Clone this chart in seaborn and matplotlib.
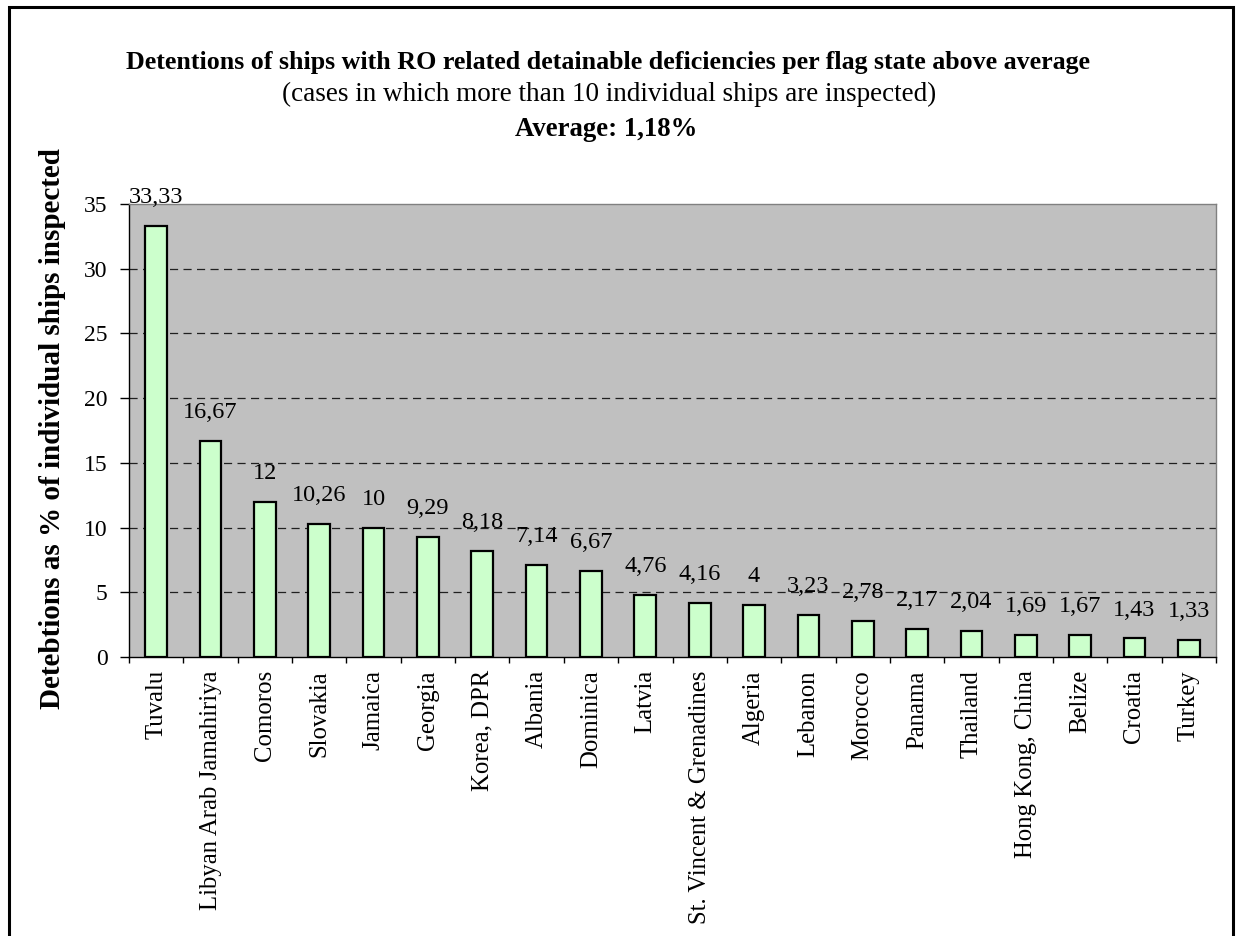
import matplotlib
matplotlib.use("Agg")
import matplotlib.pyplot as plt
import numpy as np
import pandas as pd
import seaborn as sns
from matplotlib.patches import Rectangle

# Flag states with detention rates above the average
flag_states = [
    "Tuvalu", "Libyan Arab Jamahiriya", "Comoros", "Slovakia", "Jamaica",
    "Georgia", "Korea, DPR", "Albania", "Dominica", "Latvia",
    "St. Vincent & Grenadines", "Algeria", "Lebanon", "Morocco", "Panama",
    "Thailand", "Hong Kong, China", "Belize", "Croatia", "Turkey",
]
detention_pct = [
    33.33, 16.67, 12, 10.26, 10,
    9.29, 8.18, 7.14, 6.67, 4.76,
    4.16, 4, 3.23, 2.78, 2.17,
    2.04, 1.69, 1.67, 1.43, 1.33,
]
y_ticks = [0, 5, 10, 15, 20, 25, 30, 35]

title = "Detentions of ships with RO related detainable deficiencies per flag state above average"
subtitle = "(cases in which more than 10 individual ships are inspected)"
average_text = "Average: 1,18%"
y_label = "Detebtions as % of individual ships inspected"

sns.set_style("white")
plt.rcParams["font.family"] = ["Liberation Serif", "DejaVu Serif"]
plt.rcParams["text.color"] = "black"
plt.rcParams["xtick.color"] = "black"
plt.rcParams["ytick.color"] = "black"

W, H = 1236, 936
fig = plt.figure(figsize=(W / 100, H / 100), dpi=100, facecolor="white")
ax = fig.add_axes([129 / W, 1 - 657 / H, 1087 / W, 453 / H])
ax.set_facecolor("#c0c0c0")

df = pd.DataFrame({"flag": flag_states, "pct": detention_pct})

# dashed horizontal gridlines behind the bars
ax.hlines(y_ticks[1:-1], -0.5, len(flag_states) - 0.5, colors="#202020",
          linestyles=(0, (6.5, 4.3)), linewidth=0.9, zorder=1)

sns.barplot(data=df, x="flag", y="pct", color="#ccffcc", saturation=1,
            edgecolor="black", linewidth=1.6, width=0.4, ax=ax, zorder=3)

# value labels above each bar, in decimal-comma notation
for i, v in enumerate(detention_pct):
    ax.annotate(f"{v:g}".replace(".", ","), (i, v), xytext=(0, 20.5),
                textcoords="offset points", ha="center", va="center",
                fontsize=17.5, annotation_clip=False, zorder=4)

ax.set_xlim(-0.5, len(flag_states) - 0.5)
ax.set_ylim(0, 35)
ax.set_yticks(y_ticks)
ax.set_xticks(range(len(flag_states)))
ax.set_xticklabels(flag_states, rotation=90, fontsize=17.8)
ax.set_xticks(np.arange(-0.5, len(flag_states), 1), minor=True)
ax.set_xlabel("")
ax.set_ylabel("")

ax.tick_params(axis="x", which="major", length=0, pad=9.5, bottom=True,
               labelcolor="black")
ax.tick_params(axis="x", which="minor", length=4, width=1, direction="out",
               bottom=True, color="black")
ax.tick_params(axis="y", length=6.5, width=1, direction="out", pad=9,
               left=True, labelsize=17, color="black", labelcolor="black")

for side in ("left", "bottom"):
    ax.spines[side].set_color("black")
    ax.spines[side].set_linewidth(1.0)
for side in ("top", "right"):
    ax.spines[side].set_visible(True)
    ax.spines[side].set_color("#808080")
    ax.spines[side].set_linewidth(1.0)

fig.text(608 / W, 1 - 62 / H, title, fontsize=18.7, weight="bold",
         ha="center", va="center")
fig.text(609 / W, 1 - 94 / H, subtitle, fontsize=19.5,
         ha="center", va="center")
fig.text(606 / W, 1 - 129 / H, average_text, fontsize=19.3, weight="bold",
         ha="center", va="center")
fig.text(53 / W, 1 - 429 / H, y_label, rotation=90, fontsize=21,
         weight="bold", ha="center", va="center")

# outer frame around the chart (open at the bottom edge of the image)
fig.add_artist(Rectangle((9 / W, -0.05), (1233 - 9) / W, 1 - 7.5 / H + 0.05,
                         transform=fig.transFigure, fill=False,
                         linewidth=2.2, edgecolor="black"))

fig.savefig("out.png", dpi=100, facecolor="white")
